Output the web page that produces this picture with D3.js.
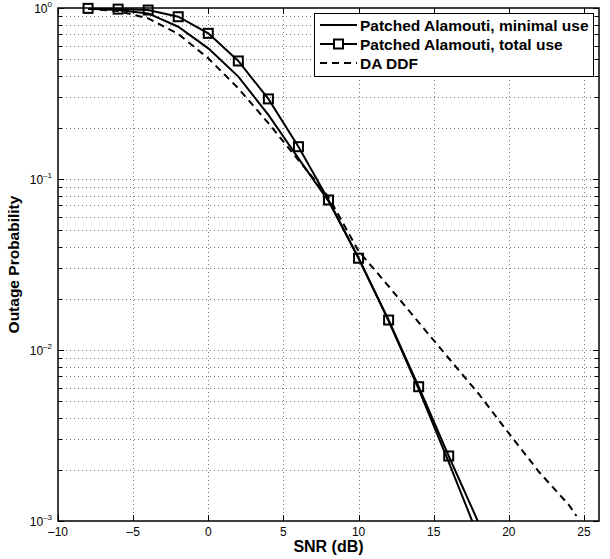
<!DOCTYPE html>
<html>
<head>
<meta charset="utf-8">
<script src="https://cdn.jsdelivr.net/npm/d3@7"></script>
<style>
  body { margin: 0; background: #fff; }
  svg { font-family: "Liberation Sans", Arial, Helvetica, sans-serif; }
</style>
</head>
<body>
<svg id="chart" width="610" height="559"></svg>
<script>
// SNR points (dB)
var snr = [-8, -6, -4, -2, 0, 2, 4, 6, 8, 10, 12, 14, 16, 18, 20];
var snrDDF = [-8, -6, -4, -2, 0, 2, 4, 6, 8, 10, 12, 14, 16, 18, 20, 22, 24, 24.5];

// outage probabilities
var minimalUse = [0.99, 0.973, 0.93, 0.777, 0.581, 0.397, 0.237, 0.132, 0.0743, 0.0345, 0.0148, 0.0059, 0.00221, 0.0008, 0.0003];
var totalUse = [0.995, 0.985, 0.973, 0.889, 0.711, 0.49, 0.294, 0.1545, 0.0754, 0.0344, 0.01497, 0.0061, 0.0024, 0.00097, 0.0004];
var daDDF = [0.99, 0.96, 0.87, 0.705, 0.508, 0.339, 0.212, 0.129, 0.0785, 0.0379, 0.0236, 0.0145, 0.00895, 0.00553, 0.00326, 0.00194, 0.00124, 0.00107];

var xTicks = [-10, -5, 0, 5, 10, 15, 20, 25];
var yTicks = [1e-3, 1e-2, 1e-1, 1];
var legendLabels = ["Patched Alamouti, minimal use", "Patched Alamouti, total use", "DA DDF"];

var margin = { top: 8, right: 11, bottom: 38, left: 58 };
var width = 610, height = 559;

var svg = d3.select("#chart");

var x = d3.scaleLinear()
  .domain([-10, 26])
  .range([margin.left, width - margin.right]);

var y = d3.scaleLog()
  .domain([1e-3, 1])
  .range([height - margin.bottom, margin.top]);

var x0 = x.range()[0], x1 = x.range()[1];
var y0 = y.range()[1], y1 = y.range()[0];

// minor log ticks
var minorY = [];
[1e-3, 1e-2, 1e-1].forEach(function (d) {
  for (var k = 2; k <= 9; k++) minorY.push(d * k);
});

var grid = svg.append("g")
  .attr("stroke", "#7a7a7a")
  .attr("stroke-width", 1)
  .attr("stroke-dasharray", "1,3");

grid.selectAll("line.gx")
  .data(xTicks.filter(function (d) { return d > -10; }))
  .enter().append("line")
  .attr("x1", function (d) { return Math.round(x(d)) + 0.5; })
  .attr("x2", function (d) { return Math.round(x(d)) + 0.5; })
  .attr("y1", y0).attr("y2", y1);

grid.selectAll("line.gy")
  .data(minorY.concat([1e-2, 1e-1]))
  .enter().append("line")
  .attr("x1", x0).attr("x2", x1)
  .attr("y1", function (d) { return Math.round(y(d)) + 0.5; })
  .attr("y2", function (d) { return Math.round(y(d)) + 0.5; });

// ticks, inward on all four sides
var ticks = svg.append("g").attr("stroke", "#000").attr("stroke-width", 1);
xTicks.forEach(function (d) {
  var px = Math.round(x(d)) + 0.5;
  ticks.append("line").attr("x1", px).attr("x2", px).attr("y1", y1).attr("y2", y1 - 6);
  ticks.append("line").attr("x1", px).attr("x2", px).attr("y1", y0).attr("y2", y0 + 6);
});
yTicks.forEach(function (d) {
  var py = Math.round(y(d)) + 0.5;
  ticks.append("line").attr("x1", x0).attr("x2", x0 + 6).attr("y1", py).attr("y2", py);
  ticks.append("line").attr("x1", x1).attr("x2", x1 - 6).attr("y1", py).attr("y2", py);
});
minorY.forEach(function (d) {
  var py = Math.round(y(d)) + 0.5;
  ticks.append("line").attr("x1", x0).attr("x2", x0 + 4).attr("y1", py).attr("y2", py);
  ticks.append("line").attr("x1", x1).attr("x2", x1 - 4).attr("y1", py).attr("y2", py);
});

// tick labels
svg.append("g").selectAll("text")
  .data(xTicks)
  .enter().append("text")
  .attr("x", function (d) { return x(d); })
  .attr("y", y1 + 15)
  .attr("text-anchor", "middle")
  .attr("font-size", 12)
  .text(function (d) { return d < 0 ? "\u2013" + Math.abs(d) : d; });

var yl = svg.append("g").selectAll("text")
  .data(yTicks)
  .enter().append("text")
  .attr("x", x0 - 6)
  .attr("y", function (d) { return y(d) + 5; })
  .attr("text-anchor", "end")
  .attr("font-size", 12);
yl.append("tspan").text("10");
yl.append("tspan")
  .attr("font-size", 8)
  .attr("dy", -6)
  .text(function (d) {
    var e = Math.round(Math.log10(d));
    return e < 0 ? "\u2013" + Math.abs(e) : e;
  });

// axis labels
svg.append("text")
  .attr("x", (x0 + x1) / 2)
  .attr("y", 552)
  .attr("text-anchor", "middle")
  .attr("font-size", 16)
  .attr("font-weight", "bold")
  .text("SNR (dB)");

svg.append("text")
  .attr("transform", "translate(19," + ((y0 + y1) / 2) + ") rotate(-90)")
  .attr("text-anchor", "middle")
  .attr("font-size", 15.5)
  .attr("font-weight", "bold")
  .text("Outage Probability");

// curves
svg.append("clipPath").attr("id", "clip")
  .append("rect")
  .attr("x", x0).attr("y", y0)
  .attr("width", x1 - x0).attr("height", y1 - y0);

var plot = svg.append("g").attr("clip-path", "url(#clip)");

var line = d3.line()
  .x(function (d) { return x(d[0]); })
  .y(function (d) { return y(d[1]); });

plot.append("path")
  .datum(d3.zip(snrDDF, daDDF))
  .attr("fill", "none")
  .attr("stroke", "#000")
  .attr("stroke-width", 2)
  .attr("stroke-dasharray", "7,5")
  .attr("d", line);

plot.append("path")
  .datum(d3.zip(snr, minimalUse))
  .attr("fill", "none")
  .attr("stroke", "#000")
  .attr("stroke-width", 2)
  .attr("d", line);

plot.append("path")
  .datum(d3.zip(snr, totalUse))
  .attr("fill", "none")
  .attr("stroke", "#000")
  .attr("stroke-width", 2)
  .attr("d", line);

var ms = 9;
svg.append("g").selectAll("rect")
  .data(d3.zip(snr, totalUse).filter(function (d) { return d[1] >= 1e-3; }))
  .enter().append("rect")
  .attr("x", function (d) { return x(d[0]) - ms / 2; })
  .attr("y", function (d) { return y(d[1]) - ms / 2; })
  .attr("width", ms).attr("height", ms)
  .attr("fill", "none")
  .attr("stroke", "#000")
  .attr("stroke-width", 2);

// axes box
svg.append("rect")
  .attr("x", x0).attr("y", y0)
  .attr("width", x1 - x0).attr("height", y1 - y0)
  .attr("fill", "none")
  .attr("stroke", "#000")
  .attr("stroke-width", 1.5);

// legend
var lg = svg.append("g");
lg.append("rect")
  .attr("x", 314.5).attr("y", 13.5)
  .attr("width", 279).attr("height", 63)
  .attr("fill", "#fff")
  .attr("stroke", "#000")
  .attr("stroke-width", 1);

var rows = [25, 44, 63];
legendLabels.forEach(function (lab, i) {
  var ly = rows[i];
  lg.append("line")
    .attr("x1", 320).attr("x2", 357)
    .attr("y1", ly).attr("y2", ly)
    .attr("stroke", "#000")
    .attr("stroke-width", 2)
    .attr("stroke-dasharray", i === 2 ? "7,5" : null);
  if (i === 1) {
    lg.append("rect")
      .attr("x", 338.5 - ms / 2).attr("y", ly - ms / 2)
      .attr("width", ms).attr("height", ms)
      .attr("fill", "#fff")
      .attr("stroke", "#000")
      .attr("stroke-width", 2);
  }
  lg.append("text")
    .attr("x", 360)
    .attr("y", ly + 5.5)
    .attr("font-size", 15.5)
    .attr("font-weight", "bold")
    .text(lab);
});
</script>
</body>
</html>
